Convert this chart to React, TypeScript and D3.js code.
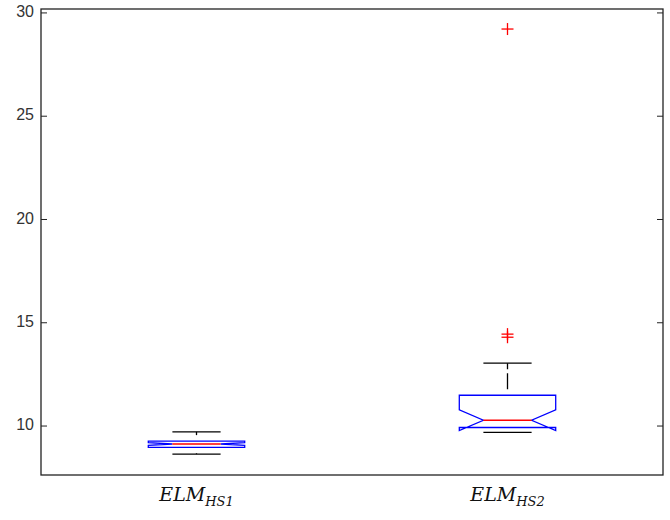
import * as d3 from 'd3';

// boxplot stats
const categories = ['HS1', 'HS2'];
const q1 = [8.97, 9.93];
const median = [9.13, 10.28];
const q3 = [9.27, 11.49];
const notchLo = [9.06, 9.78];
const notchHi = [9.2, 10.78];
const whiskerLo = [8.64, 9.69];
const whiskerHi = [9.72, 13.05];
const outliers = [[], [14.3, 14.45, 29.22]];
const yTicks = [10, 15, 20, 25, 30];

const W = 670;
const H = 520;
const left = 41, right = 663, top = 9, bottom = 475;

export default function App() {
  const x = d3.scaleLinear().domain([0.5, 2.5]).range([left, right]);
  const y = d3.scaleLinear().domain([7.63, 30.19]).range([bottom, top]);
  const half = (x(1.31) - x(1)) / 2; // box half width
  const nh = half / 2;

  const boxPath = (i: number) => {
    const c = x(i + 1);
    const p = d3.path();
    p.moveTo(c - half, y(q3[i]));
    p.lineTo(c - half, y(notchHi[i]));
    p.lineTo(c - nh, y(median[i]));
    p.lineTo(c - half, y(notchLo[i]));
    p.lineTo(c - half, y(q1[i]));
    p.lineTo(c + half, y(q1[i]));
    p.lineTo(c + half, y(notchLo[i]));
    p.lineTo(c + nh, y(median[i]));
    p.lineTo(c + half, y(notchHi[i]));
    p.lineTo(c + half, y(q3[i]));
    p.closePath();
    return p.toString();
  };

  return (
    <svg width={W} height={H} style={{ position: 'absolute', left: 0, top: 0, background: '#fff' }}>
      {/* axes frame */}
      <rect x={left} y={top} width={right - left} height={bottom - top} fill="none" stroke="#222" strokeWidth={1.3} />
      {yTicks.map(t => (
        <g key={t}>
          <line x1={left} x2={left + 6} y1={y(t)} y2={y(t)} stroke="#222" />
          <line x1={right - 6} x2={right} y1={y(t)} y2={y(t)} stroke="#222" />
          <text x={34} y={y(t)} textAnchor="end" dominantBaseline="middle"
            fontFamily="Liberation Sans, Arial, sans-serif" fontSize={16} fill="#333">{t}</text>
        </g>
      ))}

      {categories.map((cat, i) => {
        const c = x(i + 1);
        return (
          <g key={cat}>
            {/* whiskers, dashes anchored at box side */}
            <line x1={c} x2={c} y1={y(q3[i])} y2={y(whiskerHi[i])} stroke="#000" strokeWidth={1.3}
              strokeDasharray="16 4 6 6" strokeDashoffset={26} />
            <line x1={c} x2={c} y1={y(q1[i])} y2={y(whiskerLo[i])} stroke="#000" strokeWidth={1.3}
              strokeDasharray="16 4 6 6" strokeDashoffset={26} />
            <line x1={c - nh} x2={c + nh} y1={y(whiskerHi[i])} y2={y(whiskerHi[i])} stroke="#000" strokeWidth={1.3} />
            <line x1={c - nh} x2={c + nh} y1={y(whiskerLo[i])} y2={y(whiskerLo[i])} stroke="#000" strokeWidth={1.3} />
            <path d={boxPath(i)} fill="none" stroke="#0000ff" strokeWidth={1.3} />
            <line x1={c - nh} x2={c + nh} y1={y(median[i])} y2={y(median[i])} stroke="#ff0000" strokeWidth={1.3} />
            {outliers[i].map((v, j) => (
              <g key={j} stroke="#ff0000" strokeWidth={1.3}>
                <line x1={c - 6} x2={c + 6} y1={y(v)} y2={y(v)} />
                <line x1={c} x2={c} y1={y(v) - 6} y2={y(v) + 6} />
              </g>
            ))}
            <text x={c} y={501} textAnchor="middle" fontFamily="DejaVu Serif, serif" fontStyle="italic" fill="#111">
              <tspan fontSize={19}>ELM</tspan>
              <tspan fontSize={13} dy={5}>{cat}</tspan>
            </text>
          </g>
        );
      })}
    </svg>
  );
}
